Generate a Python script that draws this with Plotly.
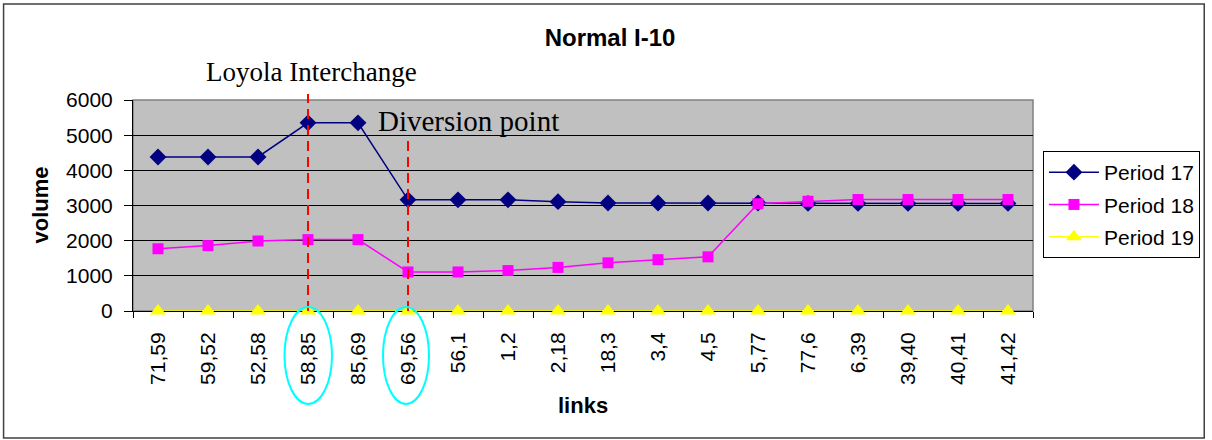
import plotly.graph_objects as go

links = ["71,59", "59,52", "52,58", "58,85", "85,69", "69,56", "56,1", "1,2", "2,18",
         "18,3", "3,4", "4,5", "5,77", "77,6", "6,39", "39,40", "40,41", "41,42"]
period17 = [4380, 4380, 4380, 5350, 5350, 3160, 3160, 3160, 3110, 3070, 3070, 3070,
            3070, 3060, 3060, 3060, 3060, 3060]
period18 = [1770, 1860, 1990, 2030, 2030, 1110, 1110, 1150, 1240, 1370, 1460, 1540,
            3050, 3120, 3170, 3170, 3170, 3170]
period19 = [0] * 18

series_names = ["Period 17", "Period 18", "Period 19"]
series_values = [period17, period18, period19]
series_colors = ["#000080", "#FF00FF", "#FFFF00"]
series_symbols = ["diamond", "square", "triangle-up"]
series_sizes = [13, 11, 14]

SANS = "Liberation Sans, Arial, sans-serif"
SERIF = "Liberation Serif, Times New Roman, serif"

fig = go.Figure()
for name, vals, col, sym, sz in zip(series_names, series_values, series_colors,
                                    series_symbols, series_sizes):
    fig.add_trace(go.Scatter(
        x=links, y=vals, name=name, mode="lines+markers",
        line=dict(color=col, width=1.5),
        marker=dict(symbol=sym, size=sz, color=col),
        cliponaxis=False, legendgroup=name,
    ))

# plot area: x 133..1037, y 100..311
L, R, T, B = 133, 1037, 100, 311
W, H = R - L, B - T


def py(p):
    return (B - p) / H


fig.update_layout(
    width=1212, height=440,
    margin=dict(l=L, r=1212 - R, t=T, b=440 - B),
    paper_bgcolor="white", plot_bgcolor="#C0C0C0",
    font=dict(family=SANS, size=21, color="black"),
    title=dict(text="<b>Normal I-10</b>", x=610 / 1212, xanchor="center",
               y=1 - 38 / 440, yanchor="middle",
               font=dict(family=SANS, size=24, color="black")),
    showlegend=True,
    legend=dict(x=(1047 - L) / W, xanchor="left", y=py(151), yanchor="top",
                bgcolor="white", bordercolor="black", borderwidth=1,
                font=dict(family=SANS, size=21, color="black"),
                tracegroupgap=2, traceorder="grouped", itemwidth=50),
)

fig.update_xaxes(
    type="category", range=[-0.5, 17.5], tickangle=-90, tickson="boundaries",
    ticks="outside", ticklen=6, tickcolor="black", showline=True,
    linecolor="black", linewidth=1, showgrid=False, ticklabelstandoff=12,
    layer="below traces",
    tickfont=dict(family=SANS, size=21, color="black"),
)
fig.update_yaxes(
    range=[0, 6000], dtick=1000, ticks="outside", ticklen=8, tickcolor="black",
    showline=True, linecolor="black", linewidth=1, showgrid=True,
    gridcolor="black", gridwidth=1, zeroline=False, ticklabelstandoff=7,
    layer="below traces",
    tickfont=dict(family=SANS, size=21, color="black"),
)

shapes = [
    # plot area border (top/right grey)
    dict(type="rect", xref="paper", yref="paper", x0=0, x1=1, y0=0, y1=1,
         line=dict(color="#808080", width=1.5), layer="below"),
    # outer chart border
    dict(type="rect", xref="paper", yref="paper",
         x0=(3 - L) / W, x1=(1209 - L) / W, y0=py(438), y1=py(4),
         line=dict(color="#404040", width=1.5)),
    # red dashed markers
    dict(type="line", xref="x", yref="paper", x0=3, x1=3, y0=0, y1=py(94),
         line=dict(color="#FF0000", width=2, dash="10px,6px")),
    dict(type="line", xref="x", yref="paper", x0=5, x1=5, y0=0, y1=py(140),
         line=dict(color="#FF0000", width=2, dash="10px,6px")),
    # cyan ellipses around tick labels
    dict(type="circle", xref="x", yref="paper", x0=2.53, x1=3.48,
         y0=py(404), y1=py(307), line=dict(color="#00FFFF", width=2)),
    dict(type="circle", xref="x", yref="paper", x0=4.5, x1=5.42,
         y0=py(404), y1=py(307), line=dict(color="#00FFFF", width=2)),
]
fig.update_layout(shapes=shapes)

annotations = [
    dict(text="Loyola Interchange", xref="paper", yref="paper",
         x=(312 - L) / W, y=py(72), xanchor="center", yanchor="middle",
         showarrow=False, font=dict(family=SERIF, size=27, color="black")),
    dict(text="Diversion point", xref="paper", yref="paper",
         x=(377 - L) / W, y=py(121), xanchor="left", yanchor="middle",
         showarrow=False, font=dict(family=SERIF, size=29, color="black")),
    dict(text="<b>volume</b>", xref="paper", yref="paper",
         x=(40 - L) / W, y=py(205), xanchor="center", yanchor="middle",
         textangle=-90, showarrow=False,
         font=dict(family=SANS, size=22, color="black")),
    dict(text="<b>links</b>", xref="paper", yref="paper",
         x=(585 - L) / W, y=py(405), xanchor="center", yanchor="middle",
         showarrow=False, font=dict(family=SANS, size=22, color="black")),
]
fig.update_layout(annotations=annotations)

fig.write_html("out.html", config={"displayModeBar": False},
               post_script="document.body.style.margin='0';"
                           "document.body.style.overflow='hidden';")
